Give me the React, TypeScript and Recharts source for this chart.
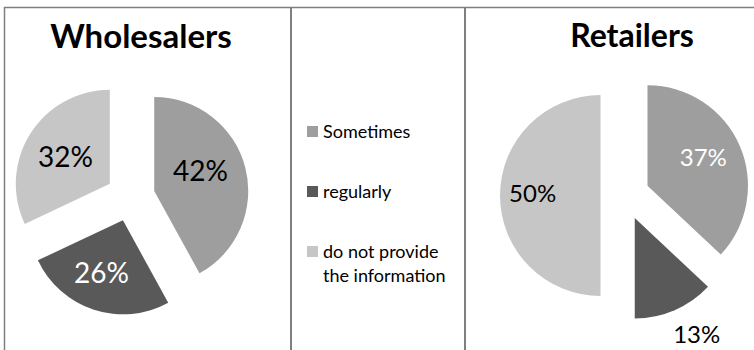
import { PieChart, Pie, Cell, Legend, Sector } from 'recharts';

const categories = ['Sometimes', 'regularly', 'do not provide the information'];
const wholesalers = [42, 26, 32];
const retailers = [37, 13, 50];
const colors = ['#9e9e9e', '#595959', '#c6c6c6'];

const wholesaleData = categories.map((name, i) => ({ name, value: wholesalers[i] }));
const retailData = categories.map((name, i) => ({ name, value: retailers[i] }));

const FONT = 'Lato, "Open Sans", sans-serif';
const RAD = Math.PI / 180;
const EXPLODE = 24.5;

const ExplodedSector = (props: any) => {
    const dx = EXPLODE * Math.cos(-props.midAngle * RAD);
    const dy = EXPLODE * Math.sin(-props.midAngle * RAD);
    return <Sector {...props} cx={props.cx + dx} cy={props.cy + dy} stroke="none" />;
};

// label placement: [radius factor, angle tweak in degrees]
const makeLabel = (pos: number[][], textColors: string[], fontSize: number) => (props: any) => {
    const { cx, cy, midAngle, outerRadius, index, value } = props;
    const [f, da] = pos[index];
    const a = -(midAngle + da) * RAD;
    const x = cx + outerRadius * f * Math.cos(a);
    const y = cy + outerRadius * f * Math.sin(a);
    return (
        <text x={x} y={y} textAnchor="middle" dominantBaseline="central" fill={textColors[index]} fontSize={fontSize} fontFamily={FONT}>
            {value}%
        </text>
    );
};

const LegendContent = () => (
    <div style={{ fontFamily: FONT, fontSize: 18, color: '#000', lineHeight: '24px' }}>
        {categories.map((name, i) => (
            <div key={name} style={{ display: 'flex', alignItems: 'flex-start', height: 60 }}>
                <span style={{ width: 11, height: 11, background: colors[i], marginTop: 7, marginRight: 5, flexShrink: 0 }} />
                <span style={{ width: 132 }}>{name}</span>
            </div>
        ))}
    </div>
);

const App = () => {
    return (
        <div style={{ position: 'absolute', left: 0, top: 0, width: 754, height: 350, background: '#fff' }}>
            <PieChart width={754} height={350} margin={{ top: 0, right: 0, bottom: 0, left: 0 }}>
                <Pie
                    data={wholesaleData}
                    dataKey="value"
                    nameKey="name"
                    cx={130.5}
                    cy={197}
                    outerRadius={94}
                    startAngle={90}
                    endAngle={-270}
                    stroke="none"
                    shape={ExplodedSector}
                    labelLine={false}
                    label={makeLabel([[0.8, 7], [0.86, -3], [0.82, 0]], ['#000', '#fff', '#000'], 28)}
                    isAnimationActive={false}
                >
                    {wholesaleData.map((d, i) => <Cell key={d.name} fill={colors[i]} />)}
                </Pie>
                <Pie
                    data={retailData}
                    dataKey="value"
                    nameKey="name"
                    cx={625}
                    cy={195.5}
                    outerRadius={100.5}
                    startAngle={90}
                    endAngle={-270}
                    stroke="none"
                    shape={ExplodedSector}
                    labelLine={false}
                    label={makeLabel([[0.87, 3], [1.55, 4], [0.92, -2]], ['#fff', '#000', '#000'], 24)}
                    isAnimationActive={false}
                >
                    {retailData.map((d, i) => <Cell key={d.name} fill={colors[i]} />)}
                </Pie>
                <Legend
                    layout="vertical"
                    content={<LegendContent />}
                    wrapperStyle={{ position: 'absolute', left: 307, top: 119, width: 150 }}
                />
            </PieChart>
            <svg width={754} height={350} style={{ position: 'absolute', left: 0, top: 0, pointerEvents: 'none' }}>
                <line x1={4} y1={7.5} x2={754} y2={7.5} stroke="#7f7f7f" strokeWidth={1.5} />
                <line x1={4.5} y1={7} x2={4.5} y2={350} stroke="#7f7f7f" strokeWidth={1.5} />
                <line x1={291} y1={7} x2={291} y2={350} stroke="#7f7f7f" strokeWidth={2} />
                <line x1={465} y1={7} x2={465} y2={350} stroke="#7f7f7f" strokeWidth={2} />
                <text x={141} y={48} textAnchor="middle" fontFamily={FONT} fontWeight={700} fontSize={33}>Wholesalers</text>
                <text x={632} y={47} textAnchor="middle" fontFamily={FONT} fontWeight={700} fontSize={32}>Retailers</text>
            </svg>
        </div>
    );
};

export default App;
